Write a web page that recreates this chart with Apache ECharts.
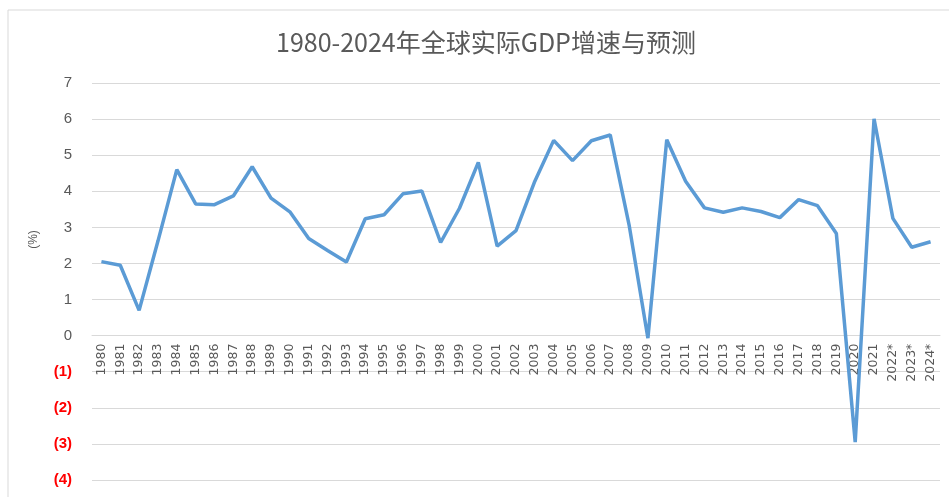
<!DOCTYPE html>
<html>
<head>
<meta charset="utf-8">
<script src="https://cdn.jsdelivr.net/npm/echarts@6/dist/echarts.min.js"></script>
<style>
html, body { margin: 0; padding: 0; background: #fff; }
#main { width: 949px; height: 497px; }
</style>
</head>
<body>
<div id="main"></div>
<script>
var years = ['1980', '1981', '1982', '1983', '1984', '1985', '1986', '1987', '1988', '1989',
    '1990', '1991', '1992', '1993', '1994', '1995', '1996', '1997', '1998', '1999',
    '2000', '2001', '2002', '2003', '2004', '2005', '2006', '2007', '2008', '2009',
    '2010', '2011', '2012', '2013', '2014', '2015', '2016', '2017', '2018', '2019',
    '2020', '2021', '2022*', '2023*', '2024*'];
var growth = [2.05, 1.95, 0.7, 2.62, 4.6, 3.65, 3.63, 3.87, 4.68, 3.81,
    3.43, 2.69, 2.36, 2.04, 3.24, 3.35, 3.93, 4.01, 2.58, 3.53,
    4.8, 2.48, 2.91, 4.28, 5.41, 4.85, 5.4, 5.56, 3.07, -0.07,
    5.43, 4.28, 3.54, 3.42, 3.54, 3.44, 3.27, 3.77, 3.6, 2.83,
    -2.95, 6.01, 3.25, 2.45, 2.6];
var titleText = '1980-2024年全球实际GDP增速与预测';

// grid: top 83, bottom edge 480 -> 11 units over 397px
var gridTop = 83, gridBottom = 17, yMin = -4, yMax = 7;
var unitPx = (497 - gridTop - gridBottom) / (yMax - yMin);

var chart = echarts.init(document.getElementById('main'));
var option = {
    animation: false,
    title: {
        text: titleText,
        left: 271,
        top: 25,
        textStyle: {
            color: '#595959',
            fontSize: 25,
            fontWeight: 'normal',
            fontFamily: 'Noto Sans CJK SC'
        }
    },
    graphic: [{
        type: 'rect',
        shape: { x: 8, y: 10, width: 1000, height: 1000 },
        style: { fill: 'none', stroke: '#d9d9d9', lineWidth: 1 },
        silent: true
    }],
    grid: { left: 92, right: 9, top: gridTop, bottom: gridBottom, containLabel: false, outerBoundsMode: 'none' },
    xAxis: {
        type: 'category',
        data: years,
        offset: -unitPx * (0 - yMin),
        axisLine: { onZero: false, lineStyle: { color: '#d9d9d9' } },
        axisTick: { show: false },
        axisLabel: {
            rotate: 90,
            interval: 0,
            color: '#595959',
            fontSize: 12.5,
            margin: 8,
            fontFamily: 'DejaVu Sans'
        }
    },
    yAxis: {
        type: 'value',
        min: yMin,
        max: yMax,
        interval: 1,
        name: '(%)',
        nameLocation: 'middle',
        nameGap: 52,
        nameRotate: 90,
        nameTextStyle: { color: '#595959', fontSize: 12, padding: [0, 0, 0, 84] },
        axisLine: { show: false },
        axisTick: { show: false },
        splitLine: { lineStyle: { color: '#d9d9d9', width: 1 } },
        axisLabel: {
            margin: 20,
            fontSize: 15,
            color: '#595959',
            formatter: function (v) {
                if (v < 0) {
                    return '{neg|(' + (-v) + ')}';
                }
                return String(v);
            },
            rich: {
                neg: { color: '#ff0000', fontWeight: 'bold', fontSize: 15 }
            }
        }
    },
    series: [{
        type: 'line',
        data: growth,
        symbol: 'none',
        lineStyle: { color: '#5b9bd5', width: 3.5 },
        itemStyle: { color: '#5b9bd5' }
    }]
};
chart.setOption(option);
</script>
</body>
</html>
